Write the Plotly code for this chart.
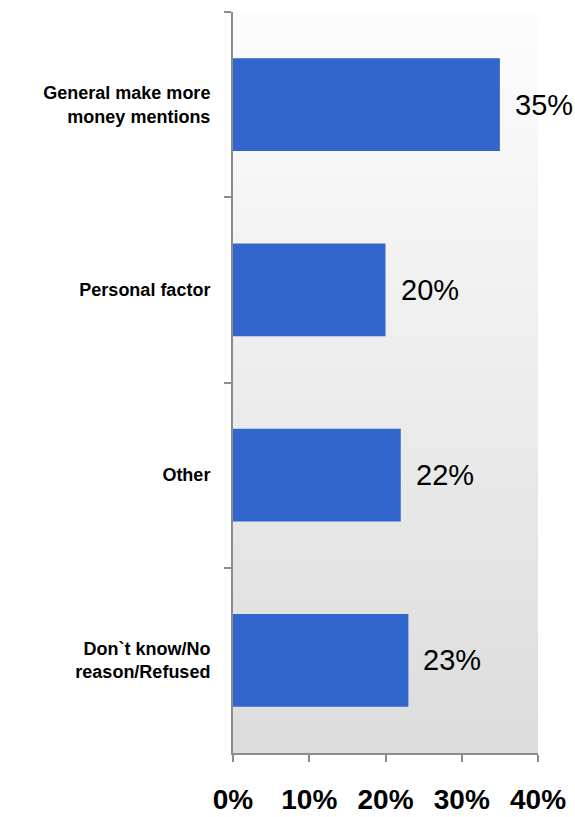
import plotly.graph_objects as go

# Reasons, top to bottom, and their shares (%)
categories = ["General make more<br>money mentions", "Personal factor", "Other",
              "Don`t know/No<br>reason/Refused"]
values = [35, 20, 22, 23]
x_ticks = [0, 10, 20, 30, 40]
x_tick_labels = ["0%", "10%", "20%", "30%", "40%"]

BAR_COLOR = "#3366cc"
AXIS_COLOR = "#8c8c8c"
FONT = "Liberation Sans, Arial, sans-serif"

fig = go.Figure()
fig.add_trace(go.Bar(
    x=values, y=categories, orientation="h",
    marker=dict(color=BAR_COLOR, line=dict(width=0)),
    width=0.5, hoverinfo="skip",
))

# value labels just right of each bar end
for c, v in zip(categories, values):
    fig.add_annotation(x=v, y=c, text=f"{v}%", showarrow=False,
                       xanchor="left", yanchor="middle", xshift=13,
                       font=dict(family=FONT, size=29, color="#000"))

# vertical white-to-grey gradient behind the plot area
n = 80
top_rgb, bot_rgb = (253, 253, 253), (220, 220, 220)
for i in range(n):
    t = (i + 0.5) / n
    r = [round(a + (b - a) * t) for a, b in zip(top_rgb, bot_rgb)]
    fig.add_shape(type="rect", xref="x domain", yref="y domain",
                  x0=0, x1=1, y0=1 - i / n, y1=1 - (i + 1) / n - 0.001,
                  fillcolor=f"rgb({r[0]},{r[1]},{r[2]})",
                  line=dict(width=0), layer="below")

fig.update_layout(
    width=575, height=817,
    margin=dict(l=233, r=37, t=12, b=64),
    paper_bgcolor="white", plot_bgcolor="rgba(0,0,0,0)",
    showlegend=False, bargap=0.5,
    font=dict(family=FONT, color="#000"),
)
fig.update_xaxes(
    range=[0, 40], tickvals=x_ticks, ticktext=x_tick_labels,
    showgrid=False, zeroline=False, automargin=False,
    showline=True, linecolor=AXIS_COLOR, linewidth=2,
    ticks="outside", ticklen=7, tickwidth=2, tickcolor=AXIS_COLOR,
    tickfont=dict(family=FONT, size=28, color="#000", weight="bold"),
    ticklabelstandoff=13,
)
fig.update_yaxes(
    type="category", categoryorder="array", categoryarray=categories,
    autorange="reversed", tickson="boundaries",
    showgrid=False, zeroline=False, automargin=False,
    showline=True, linecolor=AXIS_COLOR, linewidth=2,
    ticks="outside", ticklen=7, tickwidth=2, tickcolor=AXIS_COLOR,
    tickfont=dict(family=FONT, size=18, color="#000", weight="bold"),
    ticklabelstandoff=17,
)

fig.write_html("out.html")
